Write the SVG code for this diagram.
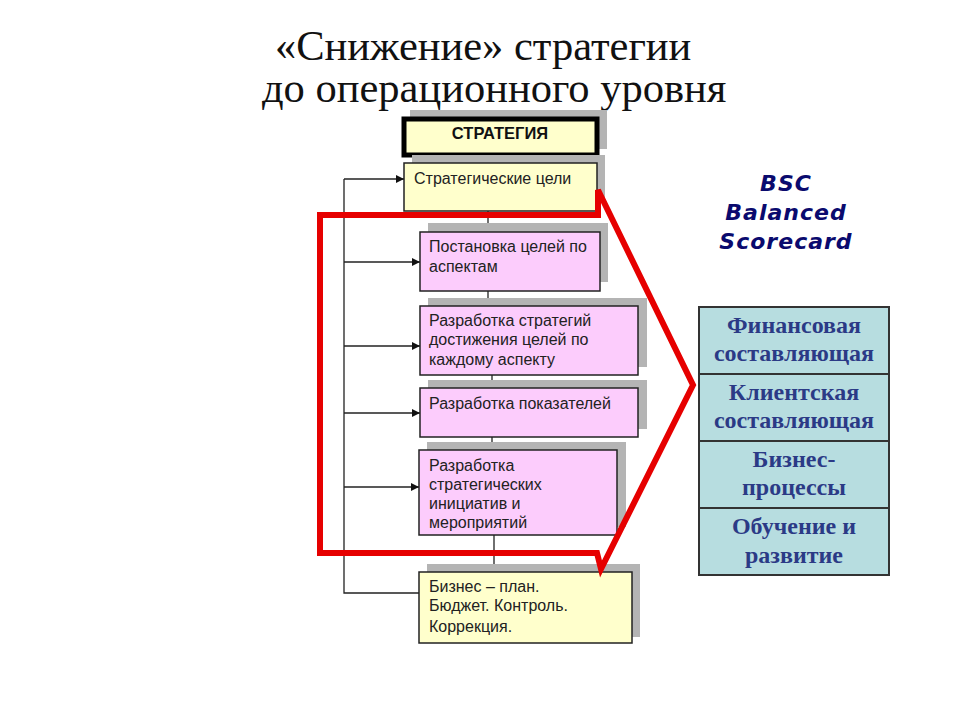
<svg xmlns="http://www.w3.org/2000/svg" width="960" height="720" viewBox="0 0 960 720">
<defs>
<marker id="arr" markerWidth="8" markerHeight="8" refX="8" refY="4" orient="auto" markerUnits="userSpaceOnUse">
<path d="M0,0 L8,4 L0,8 Z" fill="#111"/>
</marker>
<style>
.title{font-family:"Liberation Serif","Times New Roman",serif;font-size:42.5px;fill:#111}
.sh{fill:#b4b4b4}
.yel{fill:#ffffcc;stroke:#222;stroke-width:1.5}
.pink{fill:#fcccfc;stroke:#222;stroke-width:1.5}
.t{font-family:"Liberation Sans",Arial,sans-serif;font-size:16px;fill:#222}
.conn{stroke:#222;stroke-width:1.3;fill:none}
.bsc{font-family:"DejaVu Sans",Verdana,sans-serif;font-weight:bold;font-style:italic;font-size:22px;fill:#0a0a6e;letter-spacing:1px}
.cell{fill:#b7dde0;stroke:#333;stroke-width:2}
.ct{font-family:"Liberation Serif","Times New Roman",serif;font-weight:bold;font-size:24px;fill:#2b3a86}
</style>
</defs>
<rect width="960" height="720" fill="#fff"/>
<g id="title">
<text class="title" x="275" y="60">«Снижение» стратегии</text>
<text class="title" x="262" y="102">до операционного уровня</text>
</g>
<g id="connectors">
<line class="conn" x1="488" y1="157" x2="488" y2="163"/>
<line class="conn" x1="488" y1="211" x2="488" y2="232"/>
<line class="conn" x1="488" y1="291" x2="488" y2="306"/>
<line class="conn" x1="492" y1="375" x2="492" y2="388"/>
<line class="conn" x1="492" y1="437" x2="492" y2="450"/>
<line class="conn" x1="494" y1="535" x2="494" y2="572"/>
<polyline class="conn" points="419,593 344,593 344,179"/>
<line class="conn" x1="344" y1="179" x2="404" y2="179" marker-end="url(#arr)"/>
<line class="conn" x1="344" y1="262" x2="420" y2="262" marker-end="url(#arr)"/>
<line class="conn" x1="344" y1="346" x2="420" y2="346" marker-end="url(#arr)"/>
<line class="conn" x1="344" y1="413" x2="420" y2="413" marker-end="url(#arr)"/>
<line class="conn" x1="344" y1="487" x2="419" y2="487" marker-end="url(#arr)"/>
</g>
<g id="strategy">
<rect class="sh" x="410" y="110" width="197" height="39"/>
<rect x="404" y="119" width="193" height="36" fill="#ffffcc" stroke="#000" stroke-width="5"/>
<text x="500" y="139" text-anchor="middle" style="font-family:'Liberation Sans',Arial,sans-serif;font-weight:bold;font-size:16.5px;fill:#111">СТРАТЕГИЯ</text>
</g>
<g id="goals">
<rect class="sh" x="412" y="155" width="193" height="48"/>
<rect class="yel" x="404" y="163" width="193" height="48"/>
<text class="t" x="414" y="184">Стратегические цели</text>
</g>
<g id="aspects">
<rect class="sh" x="428" y="223" width="180" height="59"/>
<rect class="pink" x="420" y="232" width="180" height="59"/>
<text class="t" x="429" y="252">Постановка целей по</text>
<text class="t" x="429" y="272">аспектам</text>
</g>
<g id="strategies">
<rect class="sh" x="428" y="298" width="219" height="69"/>
<rect class="pink" x="420" y="306" width="218" height="69"/>
<text class="t" x="429" y="326">Разработка стратегий</text>
<text class="t" x="429" y="345">достижения целей по</text>
<text class="t" x="429" y="365">каждому аспекту</text>
</g>
<g id="indicators">
<rect class="sh" x="428" y="380" width="219" height="49"/>
<rect class="pink" x="420" y="388" width="218" height="49"/>
<text class="t" x="429" y="409">Разработка показателей</text>
</g>
<g id="initiatives">
<rect class="sh" x="427" y="442" width="199" height="85"/>
<rect class="pink" x="419" y="450" width="198" height="85"/>
<text class="t" x="429" y="471">Разработка</text>
<text class="t" x="429" y="490">стратегических</text>
<text class="t" x="429" y="509">инициатив и</text>
<text class="t" x="429" y="528">мероприятий</text>
</g>
<g id="plan">
<rect class="sh" x="427" y="564" width="213" height="73"/>
<rect class="yel" x="419" y="572" width="213" height="71"/>
<text class="t" x="429" y="592">Бизнес – план.</text>
<text class="t" x="429" y="611">Бюджет. Контроль.</text>
<text class="t" x="429" y="632">Коррекция.</text>
</g>
<g id="bracket">
<path d="M320,215 L598,215 L598,190 L693,385 L601,569 L597,553 L320,553 Z" fill="none" stroke="#e60000" stroke-width="6" stroke-linejoin="miter"/>
</g>
<g id="bsc">
<text class="bsc" x="786" y="191" text-anchor="middle">BSC</text>
<text class="bsc" x="786" y="220" text-anchor="middle">Balanced</text>
<text class="bsc" x="786" y="249" text-anchor="middle">Scorecard</text>
</g>
<g id="finance">
<rect class="cell" x="699" y="307" width="190" height="67"/>
<text class="ct" x="794" y="333" text-anchor="middle">Финансовая</text>
<text class="ct" x="794" y="361" text-anchor="middle">составляющая</text>
</g>
<g id="client">
<rect class="cell" x="699" y="374" width="190" height="67"/>
<text class="ct" x="794" y="400" text-anchor="middle">Клиентская</text>
<text class="ct" x="794" y="428" text-anchor="middle">составляющая</text>
</g>
<g id="process">
<rect class="cell" x="699" y="441" width="190" height="67"/>
<text class="ct" x="794" y="467" text-anchor="middle">Бизнес-</text>
<text class="ct" x="794" y="495" text-anchor="middle">процессы</text>
</g>
<g id="learning">
<rect class="cell" x="699" y="508" width="190" height="67"/>
<text class="ct" x="794" y="534" text-anchor="middle">Обучение и</text>
<text class="ct" x="794" y="563" text-anchor="middle">развитие</text>
</g>
</svg>
